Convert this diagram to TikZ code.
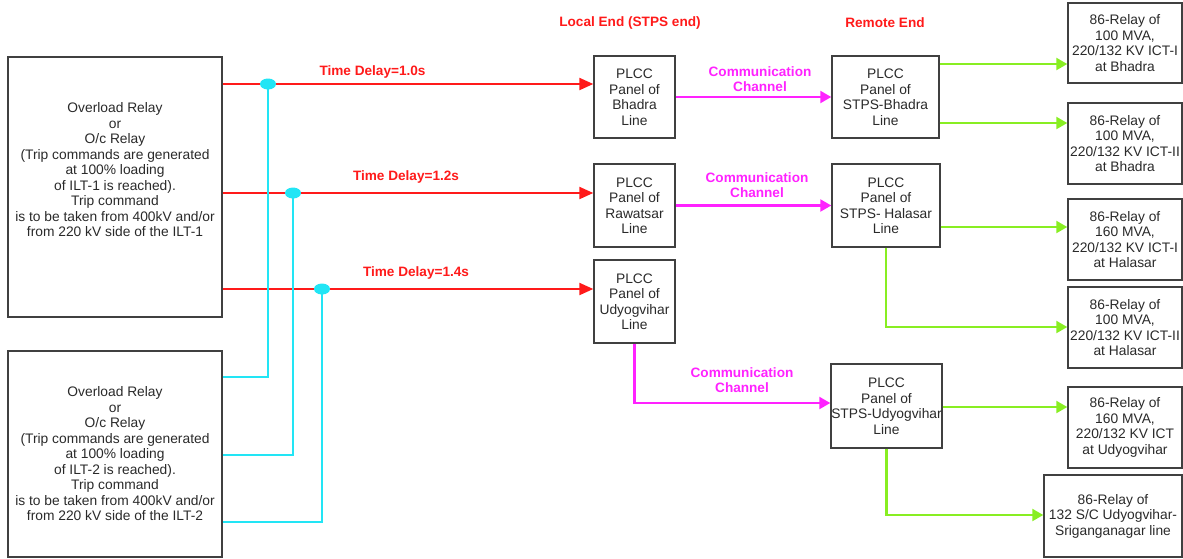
\documentclass[tikz,border=0pt]{standalone}
\usepackage{fontspec}
\setmainfont{Liberation Sans}
\usetikzlibrary{arrows.meta,shapes.geometric}
\definecolor{boxline}{HTML}{404040}
\definecolor{txt}{HTML}{2A2A2A}
\definecolor{cy}{HTML}{22E5F5}
\definecolor{mg}{HTML}{FF22FF}
\definecolor{gr}{HTML}{88EE22}
\definecolor{rd}{HTML}{FF1A1A}
\begin{document}
\begin{tikzpicture}[x=1pt,y=-1pt,
  box/.style={draw=boxline,line width=1.4pt,fill=white,inner sep=0pt,align=center,text=txt,font=\fontsize{13.8}{15.5}\selectfont},
  lbl/.style={inner sep=0pt,align=center,text=txt,font=\fontsize{13.8}{15.5}\selectfont},
  redlbl/.style={text=rd,font=\bfseries\fontsize{13.6}{15}\selectfont,inner sep=0pt},
  maglbl/.style={text=mg,font=\bfseries\fontsize{13.6}{15}\selectfont,inner sep=0pt,align=center},
  redarr/.style={draw=rd,line width=2.2pt,-{Triangle[length=14pt,width=12pt]}},
  magarr/.style={draw=mg,line width=2.2pt,-{Triangle[length=11pt,width=12pt]}},
  grarr/.style={draw=gr,line width=2.2pt,-{Triangle[length=11pt,width=12pt]}},
  cyline/.style={draw=cy,line width=2.2pt},
  jdot/.style={ellipse,fill=cy,draw=none,minimum width=16pt,minimum height=11pt,inner sep=0pt}
]
\useasboundingbox (0,0) rectangle (1183,558);

% left relay boxes
\node[box,minimum width=214pt,minimum height=260pt] (L1) at (115,187) {};
\node[lbl] (L1t) at (115,170) {Overload Relay\\or\\O/c Relay\\(Trip commands are generated\\at 100\% loading\\of ILT-1 is reached).\\Trip command\\is to be taken from 400kV and/or\\from 220 kV side of the ILT-1};
\node[box,minimum width=214pt,minimum height=206pt] (L2) at (115,454) {Overload Relay\\or\\O/c Relay\\(Trip commands are generated\\at 100\% loading\\of ILT-2 is reached).\\Trip command\\is to be taken from 400kV and/or\\from 220 kV side of the ILT-2};

% headers
\node[redlbl] (hl) at (630,23) {Local End (STPS end)};
\node[redlbl] (hr) at (885,23) {Remote End};

% local PLCC panels
\node[box,minimum width=81pt,minimum height=82pt] (P1) at (634.5,97) {PLCC\\Panel of\\Bhadra\\Line};
\node[box,minimum width=81pt,minimum height=83pt] (P2) at (634.5,205.5) {PLCC\\Panel of\\Rawatsar\\Line};
\node[box,minimum width=81pt,minimum height=83pt] (P3) at (634.5,301.5) {PLCC\\Panel of\\Udyogvihar\\Line};

% remote PLCC panels
\node[box,minimum width=107pt,minimum height=82pt] (R1) at (885.5,97) {PLCC\\Panel of\\STPS-Bhadra\\Line};
\node[box,minimum width=108pt,minimum height=83pt] (R2) at (886,205.5) {PLCC\\Panel of\\STPS- Halasar\\Line};
\node[box,minimum width=111pt,minimum height=84pt] (R3) at (886.5,406) {PLCC\\Panel of\\STPS-Udyogvihar\\Line};

% right relay boxes
\node[box,minimum width=114pt,minimum height=80pt] (A) at (1125,43) {86-Relay of\\100 MVA,\\220/132 KV ICT-I\\at Bhadra};
\node[box,minimum width=114pt,minimum height=81pt] (B) at (1125,143.5) {86-Relay of\\100 MVA,\\220/132 KV ICT-II\\at Bhadra};
\node[box,minimum width=114pt,minimum height=81pt] (C) at (1125,239.5) {86-Relay of\\160 MVA,\\220/132 KV ICT-I\\at Halasar};
\node[box,minimum width=114pt,minimum height=81pt] (D) at (1125,327.5) {86-Relay of\\100 MVA,\\220/132 KV ICT-II\\at Halasar};
\node[box,minimum width=114pt,minimum height=81pt] (E) at (1125,427.5) {86-Relay of\\160 MVA,\\220/132 KV ICT\\at Udyogvihar};
\node[box,minimum width=138pt,minimum height=82pt] (F) at (1113,516) {86-Relay of\\132 S/C Udyogvihar-\\Sriganganagar line};

% helper levels
\coordinate (y1) at (0,84);
\coordinate (y2) at (0,193);
\coordinate (y3) at (0,289);
\coordinate (c1) at (0,377);
\coordinate (c2) at (0,455);
\coordinate (c3) at (0,522);
\coordinate (m3) at (0,403);
\coordinate (g1) at (0,64);
\coordinate (g2) at (0,123);
\coordinate (g3) at (0,227);
\coordinate (g4) at (0,327);
\coordinate (g5) at (0,407);
\coordinate (g6) at (0,515);

% red trip lines
\draw[redarr] (L1.east |- y1) -- (P1.west |- y1);
\draw[redarr] (L1.east |- y2) -- (P2.west |- y2);
\draw[redarr] (L1.east |- y3) -- (P3.west |- y3);
\node[redlbl] (t1) at (372.5,72) {Time Delay=1.0s};
\node[redlbl] (t2) at (406,177) {Time Delay=1.2s};
\node[redlbl] (t3) at (416,273) {Time Delay=1.4s};

% cyan joins
\draw[cyline] (268,84) coordinate (j1) |- (L2.east |- c1);
\draw[cyline] (293,193) coordinate (j2) |- (L2.east |- c2);
\draw[cyline] (322,289) coordinate (j3) |- (L2.east |- c3);
\node[jdot] (D1) at (j1) {};
\node[jdot] (D2) at (j2) {};
\node[jdot] (D3) at (j3) {};

% communication channels
\draw[magarr] (P1.east) -- (R1.west);
\draw[magarr] (P2.east) -- (R2.west);
\draw[magarr] (P3.south) |- (R3.west |- m3);
\node[maglbl] (k1) at (760,79.5) {Communication\\Channel};
\node[maglbl] (k2) at (757,185.5) {Communication\\Channel};
\node[maglbl] (k3) at (742,380.5) {Communication\\Channel};

% green trip outputs
\draw[grarr] (R1.east |- g1) -- (A.west |- g1);
\draw[grarr] (R1.east |- g2) -- (B.west |- g2);
\draw[grarr] (R2.east |- g3) -- (C.west |- g3);
\draw[grarr] (R2.south) |- (D.west |- g4);
\draw[grarr] (R3.east |- g5) -- (E.west |- g5);
\draw[grarr] (R3.south) |- (F.west |- g6);
\end{tikzpicture}
\end{document}
